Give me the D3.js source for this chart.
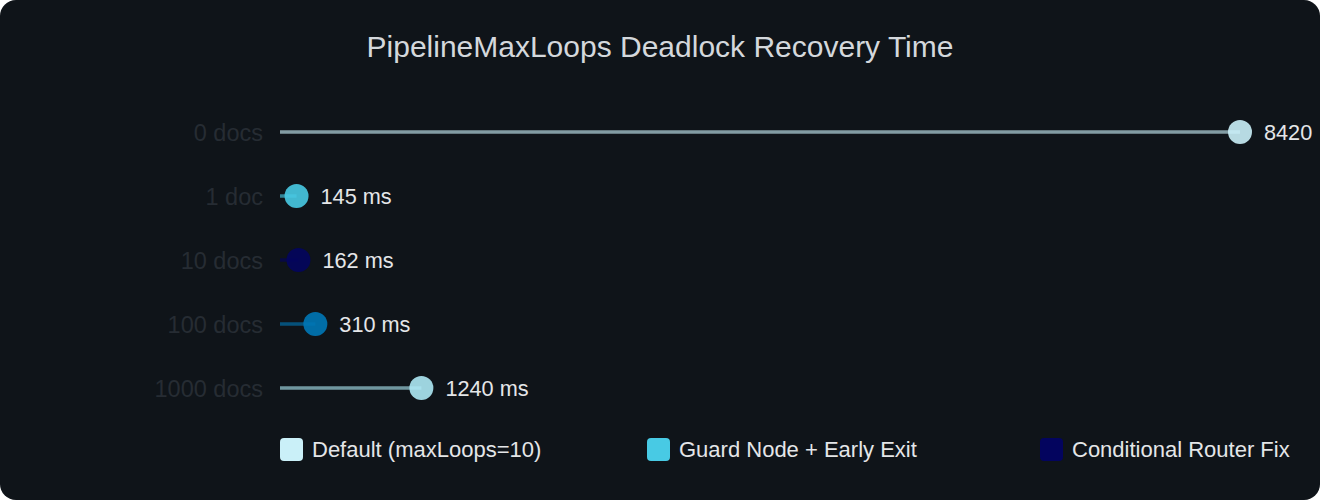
<!DOCTYPE html>
<html>
<head>
<meta charset="utf-8">
<script src="https://cdn.jsdelivr.net/npm/d3@7/dist/d3.min.js"></script>
<style>
  html, body { margin: 0; padding: 0; background: #ffffff; }
  svg { display: block; font-family: "Liberation Sans", Arial, Helvetica, sans-serif; }
</style>
</head>
<body>
<svg id="chart" width="1320" height="500"></svg>
<script>
// ---- data ----
const categories = ["0 docs", "1 doc", "10 docs", "100 docs", "1000 docs"];
const values = [8420, 145, 162, 310, 1240];
const valueLabels = ["8420", "145 ms", "162 ms", "310 ms", "1240 ms"];
const pointColors = ["#caf0f8", "#48cae4", "#03045e", "#0077b6", "#ade8f4"];
const seriesNames = ["Default (maxLoops=10)", "Guard Node + Early Exit", "Conditional Router Fix"];
const seriesColors = ["#caf0f8", "#48cae4", "#03045e"];
const titleText = "PipelineMaxLoops Deadlock Recovery Time";

// ---- layout ----
const W = 1320, H = 500;
const svg = d3.select("#chart");

svg.append("rect")
  .attr("x", 0).attr("y", 0).attr("width", W).attr("height", H)
  .attr("rx", 16).attr("ry", 16)
  .attr("fill", "#0f1419");

svg.append("text")
  .attr("x", 660).attr("y", 57)
  .attr("text-anchor", "middle")
  .attr("fill", "#d4d8dc")
  .attr("font-size", 30)
  .text(titleText);

const x = d3.scaleLinear().domain([0, 8420]).range([280, 1240]);
const y = d3.scalePoint().domain(categories).range([132, 388]);

const rows = categories.map((c, i) => ({ c, v: values[i], label: valueLabels[i], color: pointColors[i] }));

// y axis labels
const yAxis = d3.axisLeft(y).tickSize(0).tickPadding(0);
const gy = svg.append("g").attr("transform", "translate(263,0)").call(yAxis);
gy.select(".domain").remove();
gy.selectAll("text")
  .attr("fill", "#262c33")
  .attr("font-size", 23.5)
  .attr("dy", "0.35em")
  .style("font-family", "'Liberation Sans', Arial, sans-serif");

// stems
svg.append("g").selectAll("line").data(rows).join("line")
  .attr("x1", x(0)).attr("x2", d => x(d.v))
  .attr("y1", d => y(d.c)).attr("y2", d => y(d.c))
  .attr("stroke", d => d.color)
  .attr("stroke-opacity", 0.62)
  .attr("stroke-width", 3.5);

// dots
svg.append("g").selectAll("circle").data(rows).join("circle")
  .attr("cx", d => x(d.v)).attr("cy", d => y(d.c))
  .attr("r", 12)
  .attr("fill", d => d.color)
  .attr("fill-opacity", 0.9);

// value labels
svg.append("g").selectAll("text").data(rows).join("text")
  .attr("x", d => x(d.v) + 24).attr("y", d => y(d.c))
  .attr("dy", "0.35em")
  .attr("fill", "#e4e6e8")
  .attr("font-size", 21.7)
  .text(d => d.label);

// legend
const legendX = [280, 647, 1040];
const lg = svg.append("g").selectAll("g").data(seriesNames).join("g")
  .attr("transform", (d, i) => `translate(${legendX[i]},438)`);
lg.append("rect")
  .attr("width", 23).attr("height", 23).attr("rx", 4)
  .attr("fill", (d, i) => seriesColors[i]);
lg.append("text")
  .attr("x", 32).attr("y", 11.5).attr("dy", "0.35em")
  .attr("fill", "#e4e6e8")
  .attr("font-size", 22)
  .text(d => d);
</script>
</body>
</html>
